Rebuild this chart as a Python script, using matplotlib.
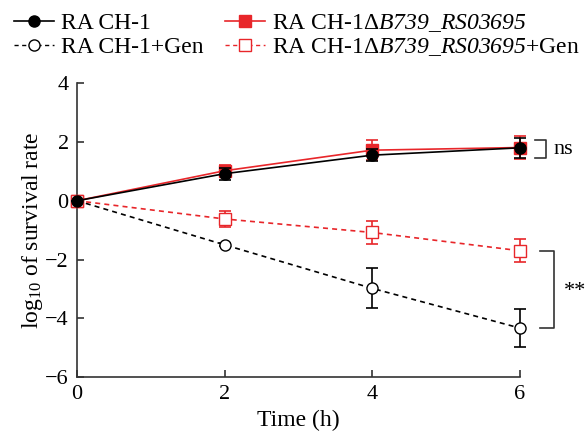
import numpy as np
import matplotlib
matplotlib.use("Agg")
import matplotlib.pyplot as plt
from matplotlib.lines import Line2D

plt.rcParams['font.family'] = ['Liberation Serif', 'DejaVu Serif']
plt.rcParams['mathtext.fontset'] = 'custom'
plt.rcParams['mathtext.rm'] = 'Liberation Serif'
plt.rcParams['mathtext.it'] = 'Liberation Serif:italic'
plt.rcParams['mathtext.sf'] = 'Liberation Serif:italic'

time_h = [0, 2, 4, 6]
wt = [0, 0.92, 1.55, 1.80]
wt_err = [0, 0.2, 0.2, 0.35]
mut = [0, 1.02, 1.72, 1.81]
mut_err = [0, 0.2, 0.33, 0.4]
wt_gen = [0, -1.5, -2.98, -4.33]
wt_gen_err = [0, 0.05, 0.68, 0.66]
mut_gen = [0, -0.62, -1.08, -1.70]
mut_gen_err = [0, 0.27, 0.4, 0.4]

red = '#e8262a'
dash = (0, (3, 2.5))
mut_name = r'RA CH-1$\Delta$$\mathsf{B739\_RS03695}$'

fig = plt.figure(figsize=(5.88, 4.33), dpi=100)
ax = fig.add_axes([0.131, 0.129, 0.753, 0.679])

kw = dict(capsize=4.5, elinewidth=1.2, capthick=1.2, lw=1.2, markersize=8, clip_on=False)
ax.errorbar(time_h, mut, yerr=mut_err, color=red, marker='s', ls='-', zorder=3, **kw)
ax.errorbar(time_h, wt, yerr=wt_err, color='black', marker='o', ls='-', zorder=4, **kw)
ax.errorbar(time_h, wt_gen, yerr=wt_gen_err, color='black', marker='o', ls=dash,
            mfc='white', zorder=3, **kw)
ax.errorbar(time_h, mut_gen, yerr=mut_gen_err, color=red, marker='s', ls=dash,
            mfc='white', zorder=3, **kw)

ax.set_xlim(0, 6)
ax.set_ylim(-6, 4)
ax.set_xticks([0, 2, 4, 6])
ax.set_yticks([-6, -4, -2, 0, 2, 4])
ax.set_yticklabels(['\u22126', '\u22124', '\u22122', '0', '2', '4'])
ax.tick_params(direction='in', labelsize=16, length=5, width=1.2, color='#333333', pad=6)
for s in ['top', 'right']:
    ax.spines[s].set_visible(False)
for s in ['left', 'bottom']:
    ax.spines[s].set_linewidth(1.2)
    ax.spines[s].set_color('#333333')

ax.set_xlabel('Time (h)', fontsize=17, labelpad=4)
ax.set_ylabel(r'log$_{10}$ of survival rate', fontsize=17, labelpad=0)

# significance brackets
ax.plot([6.2, 6.36, 6.36, 6.2], [2.05, 2.05, 1.45, 1.45], color='#333333', lw=1.2, clip_on=False)
ax.text(6.46, 1.75, 'ns', fontsize=16, va='center', ha='left')
ax.plot([6.27, 6.47, 6.47, 6.27], [-1.7, -1.7, -4.32, -4.32], color='#333333', lw=1.2, clip_on=False)
ax.text(6.6, -3.1, '**', fontsize=16, va='center', ha='left')

handles = [
    Line2D([], [], color='black', marker='o', ls='-', lw=1.2, markersize=8),
    Line2D([], [], color='black', marker='o', ls=dash, lw=1.0, markersize=8, mfc='white'),
    Line2D([], [], color=red, marker='s', ls='-', lw=1.2, markersize=8),
    Line2D([], [], color=red, marker='s', ls=dash, lw=1.0, markersize=8, mfc='white'),
]
labels = ['RA CH-1', 'RA CH-1+Gen', mut_name, mut_name + '+Gen']
fig.legend(handles, labels, ncol=2, loc='upper left', bbox_to_anchor=(0.0, 1.005), frameon=False,
           fontsize=17, handlelength=1.7, handletextpad=0.3, columnspacing=0.9,
           labelspacing=0.1, borderaxespad=0.2)

fig.savefig('out.png', dpi=100)
